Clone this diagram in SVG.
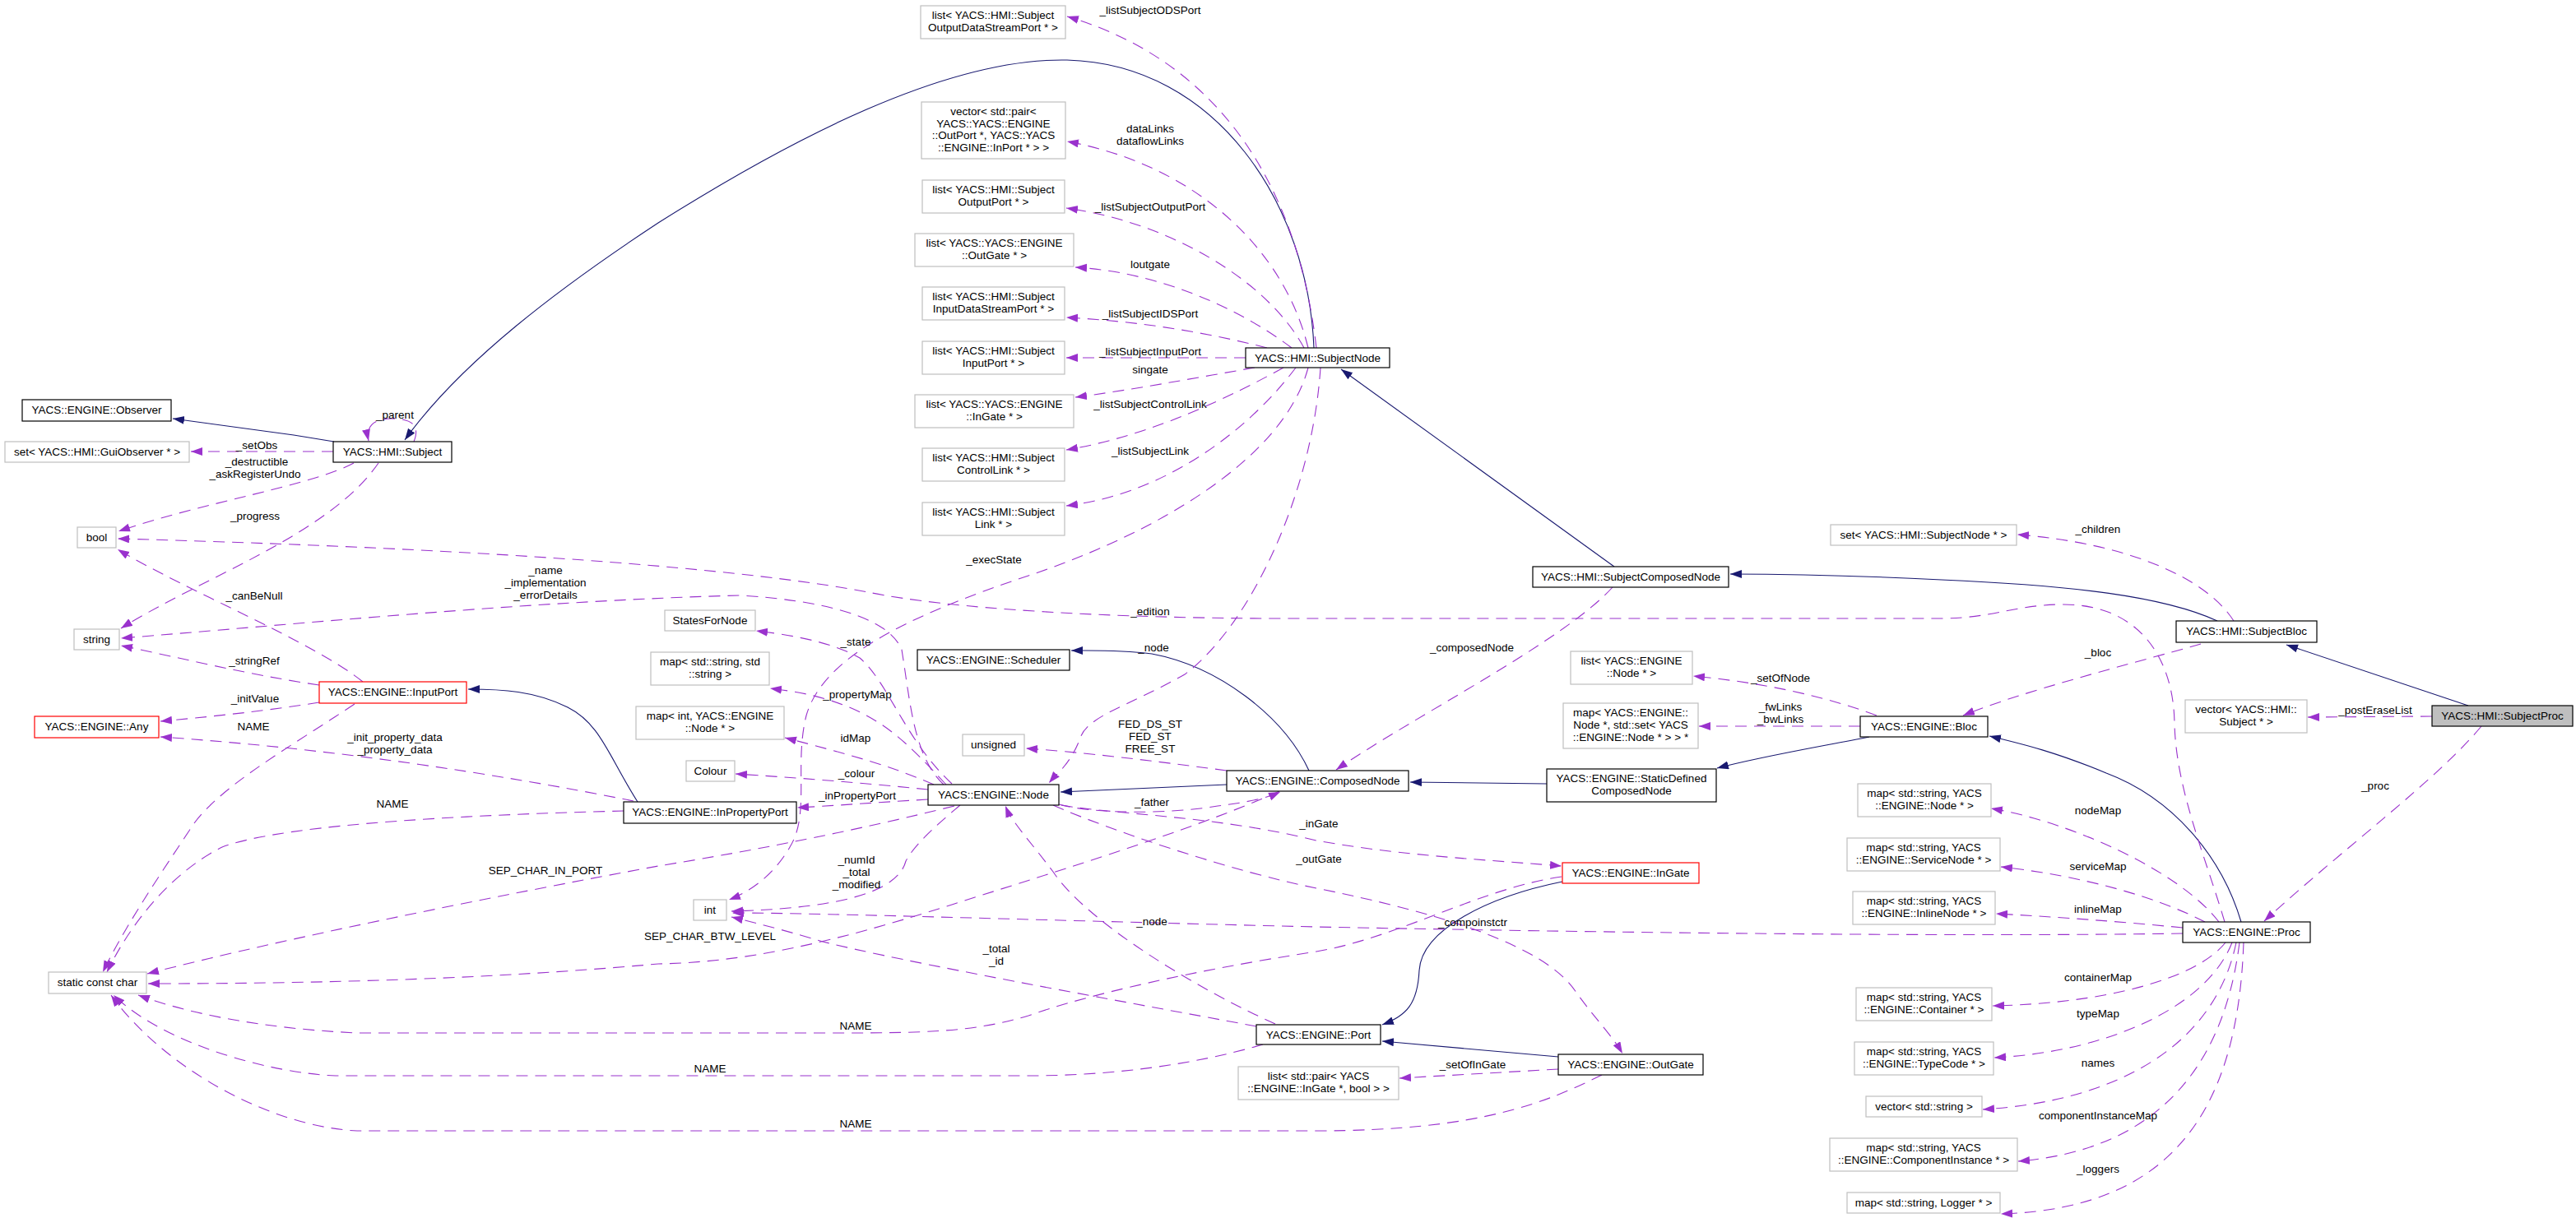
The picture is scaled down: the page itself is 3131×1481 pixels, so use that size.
<svg xmlns="http://www.w3.org/2000/svg" width="3131" height="1481" viewBox="0 0 3131 1481">
<style>
text{font-family:"Liberation Sans",Arial,Helvetica,sans-serif;font-size:13.5px;fill:#000;text-anchor:middle}
.nd rect{fill:#fff;stroke:#000;stroke-width:1.2}
.gr rect{fill:#fff;stroke:#bfbfbf;stroke-width:1.2}
.rd rect{fill:#fff;stroke:#ff0000;stroke-width:1.2}
.me rect{fill:#bfbfbf;stroke:#000;stroke-width:1.2}
.u{fill:none;stroke:#9a32cd;stroke-width:1.1;stroke-dasharray:14,9;marker-end:url(#ap)}
.i{fill:none;stroke:#191970;stroke-width:1.1;marker-end:url(#an)}
</style>
<defs>
<marker id="ap" markerUnits="userSpaceOnUse" markerWidth="15" markerHeight="11" refX="14" refY="5" orient="auto"><path d="M0,0 L14,5 L0,10 z" fill="#9a32cd" stroke="none"/></marker>
<marker id="an" markerUnits="userSpaceOnUse" markerWidth="15" markerHeight="11" refX="14" refY="5" orient="auto"><path d="M0,0 L14,5 L0,10 z" fill="#191970" stroke="none"/></marker>
</defs>
<rect width="3131" height="1481" fill="#fff"/>

<g id="connectors">
<!-- inheritance -->
<path class="i" d="M406,537 L357,529 L210,509"/>
<path class="i" d="M1597,423 C1590,250 1480,78 1297,73 C1150,70 960,170 800,271 C680,350 560,440 492,535"/>
<path class="i" d="M1962,689 L1630,449"/>
<path class="i" d="M2695,755 C2630,725 2520,712 2360,705 C2280,701 2200,698 2103,698"/>
<path class="i" d="M3000,858 L2779,784"/>
<path class="i" d="M1491,954 L1289,963"/>
<path class="i" d="M1591,937 C1560,870 1480,810 1400,795 C1360,790 1330,791 1302,791"/>
<path class="i" d="M1880,953 L1714,951"/>
<path class="i" d="M2272,896 C2200,910 2140,920 2087,934"/>
<path class="i" d="M2724,1121 C2700,1040 2640,970 2560,940 C2500,915 2460,905 2418,895"/>
<path class="i" d="M775,975 C740,920 730,880 690,860 C650,840 610,838 569,838"/>
<path class="i" d="M1899,1072 C1810,1090 1728,1130 1725,1180 C1723,1220 1710,1235 1680,1246"/>
<path class="i" d="M1894,1285 L1680,1266"/>
<!-- usage -->
<path class="u" d="M1600,423 C1580,250 1500,80 1297,20"/>
<path class="u" d="M1590,423 C1560,300 1450,200 1297,172"/>
<path class="u" d="M1585,423 C1540,340 1420,270 1296,253"/>
<path class="u" d="M1570,423 C1500,370 1400,330 1307,325"/>
<path class="u" d="M1540,423 C1450,400 1370,390 1296,386"/>
<path class="u" d="M1514,435 L1296,435"/>
<path class="u" d="M1525,447 C1450,460 1370,475 1307,483"/>
<path class="u" d="M1560,447 C1500,480 1400,530 1296,547"/>
<path class="u" d="M1575,447 C1520,520 1420,600 1296,615"/>
<path class="u" d="M1590,447 C1560,560 1400,650 1250,700 C1100,750 1000,800 980,870 C965,930 985,990 960,1030 C940,1065 910,1085 886,1094"/>
<path class="u" d="M1605,447 C1595,600 1520,760 1440,820 C1370,860 1320,870 1312,900 C1300,930 1285,940 1275,952"/>
<path class="u" d="M430,563 C380,590 250,610 144,646"/>
<path class="u" d="M460,563 C400,650 250,700 147,764"/>
<path class="u" d="M503,537 C512,515 497,509 476,509 C455,509 444,518 448,536"/>
<path class="u" d="M405,549 L232,549"/>
<path class="u" d="M441,829 C380,780 230,720 143,668"/>
<path class="u" d="M388,833 C300,820 220,800 147,785"/>
<path class="u" d="M388,854 C320,865 250,872 195,877"/>
<path class="u" d="M431,856 C350,910 260,960 230,1010 C190,1070 150,1130 125,1182"/>
<path class="u" d="M770,974 C600,940 400,910 195,896"/>
<path class="u" d="M758,986 C600,990 350,1000 270,1030 C210,1060 160,1120 130,1182"/>
<path class="u" d="M1147,954 C1110,920 1106,850 1096,790 C1080,750 1000,730 900,724 C650,730 350,760 147,776"/>
<path class="u" d="M2704,1121 C2680,1040 2645,960 2643,880 C2642,800 2600,735 2508,735 C2450,735 2420,752 2360,752 L1560,752 C1350,752 1150,740 1055,720 C950,700 700,670 143,655"/>
<path class="u" d="M1157,953 C1100,900 1080,830 1045,800 C1010,780 960,772 919,767"/>
<path class="u" d="M1150,954 C1100,900 1070,870 1004,850 C980,843 960,840 936,837"/>
<path class="u" d="M1135,954 C1080,930 1030,917 954,897"/>
<path class="u" d="M1128,960 C1050,952 960,945 894,941"/>
<path class="u" d="M1128,972 C1060,976 1010,980 969,982"/>
<path class="u" d="M1290,979 C1350,990 1480,992 1600,1022 C1700,1040 1800,1045 1898,1053"/>
<path class="u" d="M1280,979 C1350,1010 1500,1060 1600,1080 C1750,1110 1880,1150 1916,1207 C1940,1240 1960,1260 1972,1281"/>
<path class="u" d="M1550,1245 C1450,1200 1320,1120 1280,1060 C1250,1020 1230,1000 1222,980"/>
<path class="u" d="M1527,1248 C1350,1215 1100,1170 1000,1145 C950,1130 910,1120 889,1115"/>
<path class="u" d="M1167,979 C1130,1010 1110,1030 1101,1047 C1090,1090 1000,1105 889,1108"/>
<path class="u" d="M2653,1135 C2400,1139 2000,1135 1600,1127 C1300,1120 1000,1110 890,1110"/>
<path class="u" d="M1160,980 C1000,1020 850,1045 800,1053 C600,1090 350,1140 179,1184"/>
<path class="u" d="M1555,962 C1450,1010 1250,1070 1157,1100 C1000,1150 900,1170 800,1172 C600,1190 400,1196 180,1196"/>
<path class="u" d="M1287,978 C1330,990 1420,990 1480,980 C1520,975 1540,970 1556,963"/>
<path class="u" d="M1491,937 C1400,925 1320,915 1247,910"/>
<path class="u" d="M1960,714 C1900,780 1720,870 1624,936"/>
<path class="u" d="M1898,1066 C1800,1080 1700,1140 1600,1157 C1450,1180 1320,1210 1250,1235 C1180,1256 1120,1256 1000,1256 L434,1256 C350,1252 250,1240 168,1210"/>
<path class="u" d="M1535,1270 C1450,1295 1350,1308 1250,1308 L408,1308 C330,1305 200,1270 138,1210"/>
<path class="u" d="M1947,1307 C1880,1340 1800,1375 1600,1375 L434,1375 C330,1370 200,1300 135,1210"/>
<path class="u" d="M1894,1300 L1701,1311"/>
<path class="u" d="M2281,870 C2200,840 2120,828 2058,822"/>
<path class="u" d="M2261,883 L2065,883"/>
<path class="u" d="M2715,755 C2680,700 2580,660 2452,650"/>
<path class="u" d="M2675,783 C2580,810 2460,840 2386,870"/>
<path class="u" d="M2956,871 L2805,872"/>
<path class="u" d="M3016,883 C2960,950 2850,1030 2752,1120"/>
<path class="u" d="M2697,1121 C2650,1060 2520,1000 2420,983"/>
<path class="u" d="M2680,1121 C2620,1090 2530,1065 2432,1054"/>
<path class="u" d="M2653,1128 C2570,1120 2500,1115 2426,1111"/>
<path class="u" d="M2705,1146 C2670,1190 2560,1220 2422,1223"/>
<path class="u" d="M2713,1146 C2680,1230 2550,1280 2424,1286"/>
<path class="u" d="M2718,1146 C2690,1280 2560,1340 2410,1349"/>
<path class="u" d="M2722,1146 C2700,1320 2600,1400 2453,1412"/>
<path class="u" d="M2727,1146 C2720,1350 2640,1470 2432,1476"/>
<!-- labels -->
<text x="480" y="509">_parent</text>
<text x="312" y="546">_setObs</text>
<text x="312" y="566">_destructible</text>
<text x="310" y="581">_askRegisterUndo</text>
<text x="310" y="632">_progress</text>
<text x="309" y="729">_canBeNull</text>
<text x="663" y="698">_name</text>
<text x="663" y="713">_implementation</text>
<text x="663" y="728">_errorDetails</text>
<text x="309" y="808">_stringRef</text>
<text x="310" y="854">_initValue</text>
<text x="308" y="888">NAME</text>
<text x="480" y="901">_init_property_data</text>
<text x="480" y="916">_property_data</text>
<text x="477" y="982">NAME</text>
<text x="663" y="1063">SEP_CHAR_IN_PORT</text>
<text x="863" y="1143">SEP_CHAR_BTW_LEVEL</text>
<text x="1041" y="1050">_numId</text>
<text x="1041" y="1065">_total</text>
<text x="1041" y="1080">_modified</text>
<text x="1400" y="1125">_node</text>
<text x="1211" y="1158">_total</text>
<text x="1211" y="1173">_id</text>
<text x="1040" y="1252">NAME</text>
<text x="863" y="1304">NAME</text>
<text x="1040" y="1371">NAME</text>
<text x="1603" y="1006">_inGate</text>
<text x="1603" y="1049">_outGate</text>
<text x="1790" y="1126">_compoinstctr</text>
<text x="1790" y="1299">_setOfInGate</text>
<text x="1398" y="17">_listSubjectODSPort</text>
<text x="1398" y="161">dataLinks</text>
<text x="1398" y="176">dataflowLinks</text>
<text x="1398" y="256">_listSubjectOutputPort</text>
<text x="1398" y="326">loutgate</text>
<text x="1398" y="386">_listSubjectIDSPort</text>
<text x="1398" y="432">_listSubjectInputPort</text>
<text x="1398" y="454">singate</text>
<text x="1398" y="496">_listSubjectControlLink</text>
<text x="1398" y="553">_listSubjectLink</text>
<text x="1208" y="685">_execState</text>
<text x="1398" y="748">_edition</text>
<text x="1040" y="785">_state</text>
<text x="1042" y="849">_propertyMap</text>
<text x="1040" y="902">idMap</text>
<text x="1041" y="945">_colour</text>
<text x="1042" y="972">_inPropertyPort</text>
<text x="1402" y="792">_node</text>
<text x="1398" y="885">FED_DS_ST</text>
<text x="1398" y="900">FED_ST</text>
<text x="1398" y="915">FREE_ST</text>
<text x="1400" y="980">_father</text>
<text x="1789" y="792">_composedNode</text>
<text x="2164" y="829">_setOfNode</text>
<text x="2164" y="864">_fwLinks</text>
<text x="2164" y="879">_bwLinks</text>
<text x="2550" y="648">_children</text>
<text x="2550" y="798">_bloc</text>
<text x="2887" y="868">_postEraseList</text>
<text x="2887" y="960">_proc</text>
<text x="2550" y="990">nodeMap</text>
<text x="2550" y="1058">serviceMap</text>
<text x="2550" y="1110">inlineMap</text>
<text x="2550" y="1193">containerMap</text>
<text x="2550" y="1237">typeMap</text>
<text x="2550" y="1297">names</text>
<text x="2550" y="1361">componentInstanceMap</text>
<text x="2550" y="1426">_loggers</text>
</g>

<g id="n_observer" class="nd"><rect x="27" y="486" width="181" height="26"/><text x="117.5" y="503">YACS::ENGINE::Observer</text></g>
<g id="n_guiobs" class="gr"><rect x="6" y="537" width="224" height="25"/><text x="118" y="554">set&lt; YACS::HMI::GuiObserver * &gt;</text></g>
<g id="n_subject" class="nd"><rect x="405" y="537" width="144" height="25"/><text x="477" y="554">YACS::HMI::Subject</text></g>
<g id="n_bool" class="gr"><rect x="94" y="641" width="47" height="25"/><text x="117.5" y="658">bool</text></g>
<g id="n_string" class="gr"><rect x="90" y="765" width="55" height="25"/><text x="117.5" y="782">string</text></g>
<g id="n_inputport" class="rd"><rect x="388" y="829" width="179" height="26"/><text x="477.5" y="846">YACS::ENGINE::InputPort</text></g>
<g id="n_any" class="rd"><rect x="42" y="871" width="151" height="26"/><text x="117.5" y="888">YACS::ENGINE::Any</text></g>
<g id="n_scc" class="gr"><rect x="59" y="1182" width="119" height="26"/><text x="118.5" y="1199">static const char</text></g>
<g id="n_int" class="gr"><rect x="843" y="1094" width="40" height="25"/><text x="863" y="1111">int</text></g>
<g id="n_inpropport" class="nd"><rect x="758" y="975" width="210" height="26"/><text x="863" y="992">YACS::ENGINE::InPropertyPort</text></g>
<g id="n_statesfornode" class="gr"><rect x="808" y="742" width="110" height="25"/><text x="863" y="759">StatesForNode</text></g>
<g id="n_mapss" class="gr"><rect x="791" y="793" width="144" height="40"/><text x="863" y="809">map&lt; std::string, std</text><text x="863" y="824">::string &gt;</text></g>
<g id="n_mapint" class="gr"><rect x="773" y="859" width="180" height="40"/><text x="863" y="875">map&lt; int, YACS::ENGINE</text><text x="863" y="890">::Node * &gt;</text></g>
<g id="n_colour" class="gr"><rect x="834" y="925" width="59" height="25"/><text x="863.5" y="942">Colour</text></g>
<g id="n_node" class="nd"><rect x="1128" y="954" width="159" height="25"/><text x="1207.5" y="971">YACS::ENGINE::Node</text></g>
<g id="n_ods" class="gr"><rect x="1119" y="7" width="176" height="40"/><text x="1207" y="23">list&lt; YACS::HMI::Subject</text><text x="1207" y="38">OutputDataStreamPort * &gt;</text></g>
<g id="n_vecpair" class="gr"><rect x="1120" y="124" width="175" height="69"/><text x="1207.5" y="140">vector&lt; std::pair&lt;</text><text x="1207.5" y="155"> YACS::YACS::ENGINE</text><text x="1207.5" y="169">::OutPort *, YACS::YACS</text><text x="1207.5" y="184">::ENGINE::InPort * &gt; &gt;</text></g>
<g id="n_outportlist" class="gr"><rect x="1121" y="219" width="173" height="40"/><text x="1207.5" y="235">list&lt; YACS::HMI::Subject</text><text x="1207.5" y="250">OutputPort * &gt;</text></g>
<g id="n_outgatelist" class="gr"><rect x="1112" y="284" width="193" height="40"/><text x="1208.5" y="300">list&lt; YACS::YACS::ENGINE</text><text x="1208.5" y="315">::OutGate * &gt;</text></g>
<g id="n_idslist" class="gr"><rect x="1121" y="349" width="173" height="40"/><text x="1207.5" y="365">list&lt; YACS::HMI::Subject</text><text x="1207.5" y="380">InputDataStreamPort * &gt;</text></g>
<g id="n_inputportlist" class="gr"><rect x="1121" y="415" width="173" height="40"/><text x="1207.5" y="431">list&lt; YACS::HMI::Subject</text><text x="1207.5" y="446">InputPort * &gt;</text></g>
<g id="n_ingatelist" class="gr"><rect x="1112" y="480" width="193" height="40"/><text x="1208.5" y="496">list&lt; YACS::YACS::ENGINE</text><text x="1208.5" y="511">::InGate * &gt;</text></g>
<g id="n_controllinklist" class="gr"><rect x="1121" y="545" width="173" height="40"/><text x="1207.5" y="561">list&lt; YACS::HMI::Subject</text><text x="1207.5" y="576">ControlLink * &gt;</text></g>
<g id="n_linklist" class="gr"><rect x="1121" y="611" width="173" height="40"/><text x="1207.5" y="627">list&lt; YACS::HMI::Subject</text><text x="1207.5" y="642">Link * &gt;</text></g>
<g id="n_subjectnode" class="nd"><rect x="1514" y="423" width="175" height="24"/><text x="1601.5" y="440">YACS::HMI::SubjectNode</text></g>
<g id="n_scheduler" class="nd"><rect x="1115" y="790" width="185" height="25"/><text x="1207.5" y="807">YACS::ENGINE::Scheduler</text></g>
<g id="n_unsigned" class="gr"><rect x="1170" y="893" width="75" height="26"/><text x="1207.5" y="910">unsigned</text></g>
<g id="n_composednode" class="nd"><rect x="1491" y="937" width="221" height="25"/><text x="1601.5" y="954">YACS::ENGINE::ComposedNode</text></g>
<g id="n_port" class="nd"><rect x="1527" y="1246" width="151" height="24"/><text x="1602.5" y="1263">YACS::ENGINE::Port</text></g>
<g id="n_listpair" class="gr"><rect x="1505" y="1297" width="195" height="40"/><text x="1602.5" y="1313">list&lt; std::pair&lt; YACS</text><text x="1602.5" y="1328">::ENGINE::InGate *, bool &gt; &gt;</text></g>
<g id="n_ingate" class="rd"><rect x="1899" y="1049" width="166" height="25"/><text x="1982" y="1066">YACS::ENGINE::InGate</text></g>
<g id="n_outgate" class="nd"><rect x="1894" y="1282" width="176" height="25"/><text x="1982" y="1299">YACS::ENGINE::OutGate</text></g>
<g id="n_scn" class="nd"><rect x="1863" y="689" width="238" height="25"/><text x="1982" y="706">YACS::HMI::SubjectComposedNode</text></g>
<g id="n_listnode" class="gr"><rect x="1909" y="792" width="148" height="40"/><text x="1983" y="808">list&lt; YACS::ENGINE</text><text x="1983" y="823">::Node * &gt;</text></g>
<g id="n_mapfw" class="gr"><rect x="1900" y="855" width="164" height="55"/><text x="1982" y="871">map&lt; YACS::ENGINE::</text><text x="1982" y="886">Node *, std::set&lt; YACS</text><text x="1982" y="901">::ENGINE::Node * &gt; &gt; *</text></g>
<g id="n_sdcn" class="nd"><rect x="1880" y="935" width="206" height="40"/><text x="1983" y="951">YACS::ENGINE::StaticDefined</text><text x="1983" y="966">ComposedNode</text></g>
<g id="n_bloc" class="nd"><rect x="2261" y="871" width="155" height="25"/><text x="2338.5" y="888">YACS::ENGINE::Bloc</text></g>
<g id="n_setsn" class="gr"><rect x="2225" y="638" width="226" height="25"/><text x="2338" y="655">set&lt; YACS::HMI::SubjectNode * &gt;</text></g>
<g id="n_nodemap" class="gr"><rect x="2258" y="953" width="162" height="40"/><text x="2339" y="969">map&lt; std::string, YACS</text><text x="2339" y="984">::ENGINE::Node * &gt;</text></g>
<g id="n_servicemap" class="gr"><rect x="2245" y="1019" width="186" height="40"/><text x="2338" y="1035">map&lt; std::string, YACS</text><text x="2338" y="1050">::ENGINE::ServiceNode * &gt;</text></g>
<g id="n_inlinemap" class="gr"><rect x="2252" y="1084" width="173" height="40"/><text x="2338.5" y="1100">map&lt; std::string, YACS</text><text x="2338.5" y="1115">::ENGINE::InlineNode * &gt;</text></g>
<g id="n_containermap" class="gr"><rect x="2256" y="1201" width="165" height="40"/><text x="2338.5" y="1217">map&lt; std::string, YACS</text><text x="2338.5" y="1232">::ENGINE::Container * &gt;</text></g>
<g id="n_typemap" class="gr"><rect x="2254" y="1267" width="169" height="40"/><text x="2338.5" y="1283">map&lt; std::string, YACS</text><text x="2338.5" y="1298">::ENGINE::TypeCode * &gt;</text></g>
<g id="n_vecstring" class="gr"><rect x="2268" y="1333" width="141" height="25"/><text x="2338.5" y="1350">vector&lt; std::string &gt;</text></g>
<g id="n_compmap" class="gr"><rect x="2224" y="1384" width="228" height="40"/><text x="2338" y="1400">map&lt; std::string, YACS</text><text x="2338" y="1415">::ENGINE::ComponentInstance * &gt;</text></g>
<g id="n_loggermap" class="gr"><rect x="2245" y="1450" width="186" height="25"/><text x="2338" y="1467">map&lt; std::string, Logger * &gt;</text></g>
<g id="n_proc" class="nd"><rect x="2653" y="1121" width="155" height="25"/><text x="2730.5" y="1138">YACS::ENGINE::Proc</text></g>
<g id="n_subjectbloc" class="nd"><rect x="2645" y="755" width="171" height="26"/><text x="2730.5" y="772">YACS::HMI::SubjectBloc</text></g>
<g id="n_vecsubject" class="gr"><rect x="2656" y="851" width="148" height="40"/><text x="2730" y="867">vector&lt; YACS::HMI::</text><text x="2730" y="882">Subject * &gt;</text></g>
<g id="n_subjectproc" class="me"><rect x="2956" y="858" width="171" height="25"/><text x="3041.5" y="875">YACS::HMI::SubjectProc</text></g>
</svg>
